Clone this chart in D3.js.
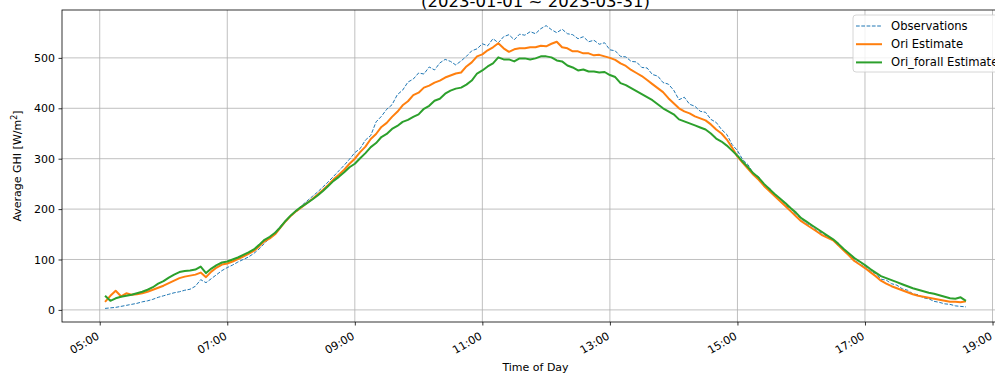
<!DOCTYPE html>
<html>
<head>
<meta charset="utf-8">
<script src="https://cdn.jsdelivr.net/npm/d3@7"></script>
<style>
  html, body { margin: 0; padding: 0; background: #fff; }
  svg { display: block; font-family: "DejaVu Sans", sans-serif; }
</style>
</head>
<body>
<svg id="chart" width="995" height="374"></svg>
<script>
// Average intraday GHI profile, 5-minute steps from 05:05 to 18:35
const timeStart = "05:05";
const timeStepMinutes = 5;

// Observed average GHI [W/m²]
const observations = [
  3, 4, 5, 7, 9, 11, 13, 16, 18, 21, 25,
  28, 31, 34, 36, 39, 41, 47, 60, 54, 62, 70, 78,
  84, 89, 95, 100, 105, 112, 121, 132, 143, 154, 166, 178,
  188, 198, 207, 216, 225, 234, 244, 254, 265, 276, 287, 299,
  312, 320, 337, 346, 373, 384, 398, 407, 427, 436, 452, 458,
  470, 468, 482, 476, 490, 497, 493, 486, 494, 503, 514, 518,
  528, 524, 538, 530, 542, 546, 536, 547, 545, 552, 548, 558,
  564, 556, 550, 557, 548, 546, 538, 542, 532, 535, 527, 530,
  516, 514, 503, 502, 493, 492, 481, 480, 467, 464, 451, 448,
  436, 417, 422, 408, 404, 394, 392, 378, 372, 358, 348, 328,
  316, 298, 288, 270, 264, 248, 242, 228, 222, 208, 201, 189,
  181, 171, 166, 157, 152, 144, 139, 127, 121, 109, 101, 90,
  86, 77, 72, 61, 59, 52, 49, 42, 39, 32, 30, 24,
  22, 17, 15, 12, 11, 8, 7, 6
];

// Ori model estimate
const oriEstimate = [
  16, 28, 38, 27, 33, 30, 31, 33, 36, 40, 44,
  48, 53, 58, 63, 66, 68, 70, 74, 65, 76, 84, 90,
  92, 96, 101, 106, 111, 117, 126, 136, 142, 150, 163, 176,
  187, 196, 204, 212, 220, 229, 238, 248, 259, 268, 278, 290,
  300, 313, 324, 339, 349, 363, 371, 383, 393, 406, 414, 426,
  431, 441, 445, 451, 455, 461, 465, 469, 471, 483, 491, 503,
  507, 515, 521, 529, 519, 512, 517, 519, 519, 521, 521, 524,
  523, 528, 532, 521, 519, 513, 513, 509, 509, 505, 506, 503,
  500, 496, 489, 484, 476, 470, 464, 456, 448, 440, 432, 420,
  410, 400, 394, 390, 384, 380, 376, 368, 358, 350, 338, 322,
  304, 292, 280, 268, 258, 246, 236, 226, 216, 206, 196, 186,
  176, 169, 162, 155, 148, 143, 138, 128, 118, 108, 97, 90,
  83, 75, 67, 58, 52, 47, 43, 39, 35, 31, 28, 26,
  24, 22, 20, 18, 16, 16, 15, 17
];

// Ori_forall model estimate
const oriForallEstimate = [
  28, 18, 23, 26, 28, 30, 33, 36, 40, 45, 52,
  57, 64, 70, 75, 77, 78, 80, 86, 73, 82, 89, 94,
  96, 100, 104, 109, 114, 120, 129, 139, 145, 153, 164, 177,
  188, 197, 205, 212, 219, 227, 236, 246, 256, 264, 273, 283,
  290, 301, 311, 323, 331, 343, 349, 359, 365, 373, 377, 383,
  388, 399, 405, 415, 419, 429, 435, 439, 441, 447, 455, 469,
  475, 483, 489, 501, 497, 497, 493, 499, 499, 497, 499, 503,
  503, 501, 495, 493, 485, 481, 475, 477, 473, 473, 471, 472,
  466, 462, 450, 446, 440, 434, 428, 422, 416, 408, 400, 394,
  388, 378, 374, 370, 366, 362, 358, 350, 340, 334, 326, 316,
  306, 294, 283, 271, 262, 250, 240, 230, 221, 212, 202, 193,
  182, 175, 168, 161, 154, 147, 140, 131, 121, 112, 103, 96,
  89, 81, 74, 67, 63, 59, 55, 51, 47, 43, 40, 37,
  34, 32, 29, 26, 23, 22, 25, 18
];

const seriesNames = ["Observations", "Ori Estimate", "Ori_forall Estimate"];
const xTickLabels = ["05:00", "07:00", "09:00", "11:00", "13:00", "15:00", "17:00", "19:00"];
const yTickValues = [0, 100, 200, 300, 400, 500];
const titleText = "(2023-01-01 ~ 2023-03-31)";

const parseHM = d3.timeParse("%Y-%m-%d %H:%M");
const day = "2023-01-01 ";
const t0 = parseHM(day + timeStart);
const times = observations.map((_, i) => d3.timeMinute.offset(t0, i * timeStepMinutes));

const svg = d3.select("#chart");
const plot = { left: 62, right: 1009, top: 10, bottom: 322 };

// 5% padding around the data extent on x
const tExt = d3.extent(times);
const pad = (tExt[1] - tExt[0]) * 0.05;
const x = d3.scaleTime()
  .domain([new Date(+tExt[0] - pad), new Date(+tExt[1] + pad)])
  .range([plot.left, plot.right]);
const y = d3.scaleLinear().domain([-24, 595]).range([plot.bottom, plot.top]);

const xTicks = xTickLabels.map(s => parseHM(day + s));

// grid
const grid = svg.append("g").attr("stroke", "#b0b0b0").attr("stroke-width", 0.8);
grid.selectAll("line.v").data(xTicks).join("line")
  .attr("x1", d => x(d)).attr("x2", d => x(d))
  .attr("y1", plot.top).attr("y2", plot.bottom);
grid.selectAll("line.h").data(yTickValues).join("line")
  .attr("x1", plot.left).attr("x2", plot.right)
  .attr("y1", d => y(d)).attr("y2", d => y(d));

// series
const styles = [
  { data: observations, color: "#1f77b4", width: 1, dash: "3.7,1.6" },
  { data: oriEstimate, color: "#ff7f0e", width: 2, dash: null },
  { data: oriForallEstimate, color: "#2ca02c", width: 2, dash: null }
];
const line = d3.line().x((d, i) => x(times[i])).y(d => y(d));
svg.append("clipPath").attr("id", "plotclip").append("rect")
  .attr("x", plot.left).attr("y", plot.top)
  .attr("width", plot.right - plot.left).attr("height", plot.bottom - plot.top);
const lines = svg.append("g").attr("clip-path", "url(#plotclip)");
styles.forEach(s => {
  lines.append("path").datum(s.data)
    .attr("d", line)
    .attr("fill", "none")
    .attr("stroke", s.color)
    .attr("stroke-width", s.width)
    .attr("stroke-linejoin", "round")
    .attr("stroke-dasharray", s.dash);
});

// axes
const fmt = d3.timeFormat("%H:%M");
const xAxis = svg.append("g").attr("transform", `translate(0,${plot.bottom})`)
  .call(d3.axisBottom(x).tickValues(xTicks).tickFormat(fmt).tickSize(3.5).tickPadding(3.5));
xAxis.select(".domain").remove();
xAxis.selectAll(".tick line").attr("stroke", "#000").attr("stroke-width", 0.8);
xAxis.selectAll(".tick text")
  .attr("font-size", 11).attr("font-family", "DejaVu Sans").attr("fill", "#000")
  .attr("text-anchor", "end").attr("y", 0).attr("dy", "0.35em")
  .attr("transform", "translate(-2,13) rotate(-30)");

const yAxis = svg.append("g").attr("transform", `translate(${plot.left},0)`)
  .call(d3.axisLeft(y).tickValues(yTickValues).tickSize(3.5).tickPadding(3.5));
yAxis.select(".domain").remove();
yAxis.selectAll(".tick line").attr("stroke", "#000").attr("stroke-width", 0.8);
yAxis.selectAll(".tick text")
  .attr("font-size", 11).attr("font-family", "DejaVu Sans").attr("fill", "#000");

// spines
svg.append("rect")
  .attr("x", plot.left).attr("y", plot.top)
  .attr("width", plot.right - plot.left).attr("height", plot.bottom - plot.top)
  .attr("fill", "none").attr("stroke", "#000").attr("stroke-width", 0.8);

// title (second line)
svg.append("text")
  .attr("x", (plot.left + plot.right) / 2).attr("y", 6.5)
  .attr("text-anchor", "middle").attr("font-size", 16.5).attr("fill", "#000")
  .text(titleText);

// axis labels
svg.append("text")
  .attr("x", (plot.left + plot.right) / 2).attr("y", 371)
  .attr("text-anchor", "middle").attr("font-size", 11).attr("fill", "#000")
  .text("Time of Day");
const yl = svg.append("text")
  .attr("transform", `translate(21,${(plot.top + plot.bottom) / 2}) rotate(-90)`)
  .attr("text-anchor", "middle").attr("font-size", 11).attr("fill", "#000");
yl.append("tspan").text("Average GHI [W/m");
yl.append("tspan").attr("font-size", 8).attr("dy", -4).text("2");
yl.append("tspan").attr("dy", 4).text("]");

// legend
const legend = svg.append("g").attr("transform", "translate(853,15)");
legend.append("rect")
  .attr("x", 0).attr("y", 0).attr("width", 170).attr("height", 57)
  .attr("rx", 3).attr("fill", "#fff").attr("fill-opacity", 0.8)
  .attr("stroke", "#cccccc").attr("stroke-width", 0.8);
seriesNames.forEach((name, i) => {
  const yy = 11 + i * 18.2;
  const s = styles[i];
  legend.append("line")
    .attr("x1", 3).attr("x2", 29).attr("y1", yy).attr("y2", yy)
    .attr("stroke", s.color).attr("stroke-width", s.width)
    .attr("stroke-dasharray", s.dash);
  legend.append("text")
    .attr("x", 38).attr("y", yy).attr("dy", "0.35em")
    .attr("font-size", 11.6).attr("fill", "#000")
    .text(name);
});
</script>
</body>
</html>
